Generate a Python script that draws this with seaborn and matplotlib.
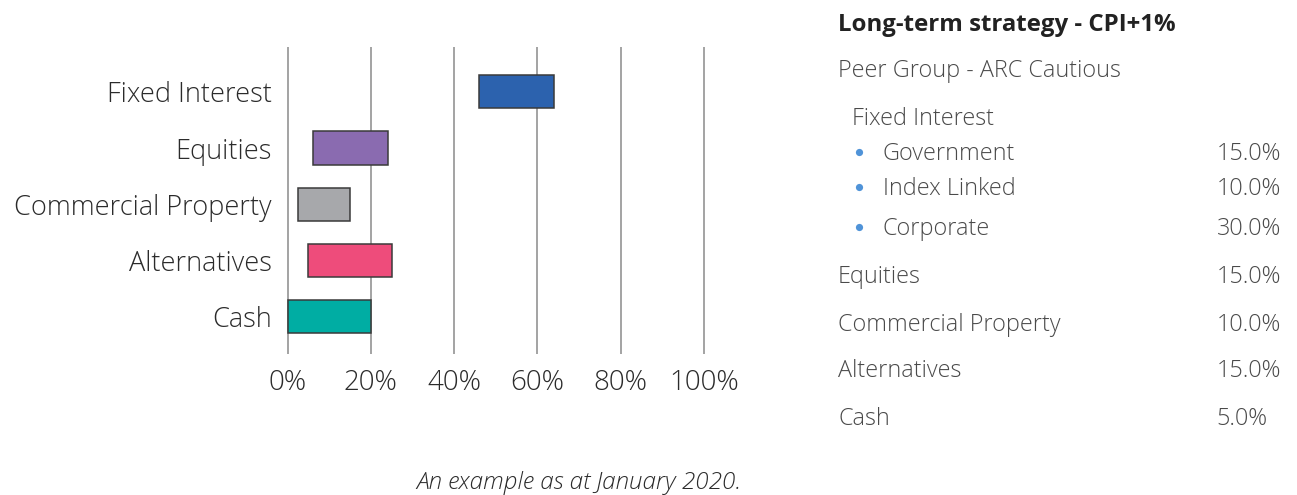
import matplotlib
matplotlib.use("Agg")
import matplotlib.pyplot as plt
from matplotlib.lines import Line2D
import seaborn as sns
import pandas as pd

# Asset-class ranges (% of portfolio)
categories = ["Fixed Interest", "Equities", "Commercial Property", "Alternatives", "Cash"]
range_low = [46.0, 6.0, 2.5, 5.0, 0.0]
range_high = [64.0, 24.0, 15.0, 25.0, 20.0]
bar_colors = ["#2c62ae", "#8a6bb0", "#a7a8ab", "#ee4c7b", "#00ada3"]
x_ticks = [0, 20, 40, 60, 80, 100]
x_tick_labels = ["0%", "20%", "40%", "60%", "80%", "100%"]

# Strategy allocation table
table_title = "Long-term strategy - CPI+1%"
peer_group = "Peer Group - ARC Cautious"
fixed_interest_head = "Fixed Interest"
fi_items = ["Government", "Index Linked", "Corporate"]
fi_weights = [15.0, 10.0, 30.0]
other_items = ["Equities", "Commercial Property", "Alternatives", "Cash"]
other_weights = [15.0, 10.0, 15.0, 5.0]
caption = "An example as at January 2020."

sns.set_theme(style="white")
plt.rcParams["font.family"] = ["Open Sans", "DejaVu Sans"]

W, H = 1297, 495
fig = plt.figure(figsize=(W / 100, H / 100), dpi=100)

# axes placed in pixel terms
ax_left, ax_right, ax_top, ax_bottom = 285.6, 705.8, 47, 354
ax = fig.add_axes([ax_left / W, 1 - ax_bottom / H,
                   (ax_right - ax_left) / W, (ax_bottom - ax_top) / H])

df = pd.DataFrame({
    "category": categories,
    "span": [h - l for l, h in zip(range_low, range_high)],
})

sns.barplot(data=df, x="span", y="category", order=categories, orient="y",
            estimator="mean", errorbar=None, width=0.59, ax=ax,
            color=bar_colors[0], saturation=1,
            left=range_low, facecolor=bar_colors,
            edgecolor="#3a3a3a", linewidth=1.1, zorder=3)

ax.set_xlim(-0.5, 100.5)
ax.set_ylim(4.67, -0.80)
ax.set_xticks(x_ticks)
ax.set_xticklabels(x_tick_labels)
ax.set_xlabel("")
ax.set_ylabel("")
ax.grid(axis="x", color="#a3a3a3", linewidth=1.4, zorder=0)
ax.grid(axis="y", visible=False)
for s in ax.spines.values():
    s.set_visible(False)
ax.tick_params(axis="x", length=0, pad=11, labelsize=20, labelcolor="#2b2b2b")
ax.tick_params(axis="y", length=0, pad=10, labelsize=19.5, labelcolor="#2b2b2b")
for lab in ax.get_xticklabels() + ax.get_yticklabels():
    lab.set_fontweight("light")


def fig_text(x, y, s, **kw):
    fig.text(x / W, 1 - y / H, s, va="baseline", **kw)


light = dict(fontweight="light", color="#4a4a4a", fontsize=16.8)

fig_text(838, 31, table_title, fontsize=17.3, fontweight="bold", color="#222222")
fig_text(838, 76.7, peer_group, **light)
fig_text(852.5, 125, fixed_interest_head, **light)

fi_baselines = [160, 195, 235]
for name, w, yb in zip(fi_items, fi_weights, fi_baselines):
    fig.add_artist(Line2D([859 / W], [1 - (yb - 8) / H], transform=fig.transFigure,
                          marker="o", markersize=5.2, color="#4f93d8",
                          markeredgewidth=0, linestyle="none"))
    fig_text(882.7, yb, name, **light)
    fig_text(1216.5, yb, f"{w:.1f}%", **light)

other_baselines = [283.3, 330.7, 377.3, 425]
for name, w, yb in zip(other_items, other_weights, other_baselines):
    fig_text(838, yb, name, **light)
    fig_text(1216.5, yb, f"{w:.1f}%", **light)

fig_text(579, 489, caption, ha="center", fontsize=17.5, fontstyle="italic",
         fontweight="light", color="#2b2b2b")

fig.savefig("out.png", dpi=100, facecolor="white")
